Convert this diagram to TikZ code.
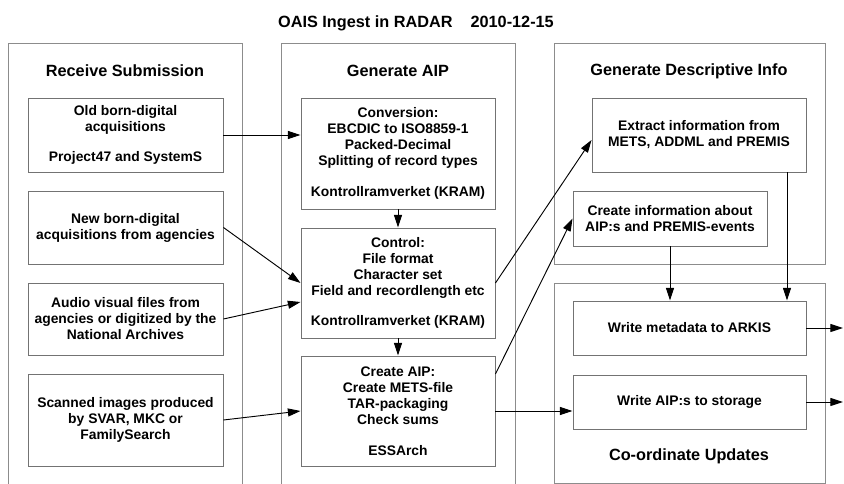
\documentclass[tikz,border=0pt]{standalone}
\usepackage{fontspec}
\setmainfont{Liberation Sans}
\usetikzlibrary{arrows.meta,calc}
\begin{document}
\begin{tikzpicture}[x=0.75pt,y=-0.75pt,
  panel/.style={draw=black!45, line width=0.6pt},
  box/.style={draw=black!55, line width=0.7pt, align=center, inner sep=2pt,
    font=\fontsize{10.4}{12}\selectfont\bfseries},
  head/.style={font=\fontsize{12.2}{14}\selectfont\bfseries, inner sep=0pt},
  arr/.style={-{Triangle[length=9.5pt,width=6pt]}, line width=0.7pt, black}]
\clip (0,0) rectangle (844,484);
\fill[white] (0,0) rectangle (844,484);
% title
\node[head] (title) at (416,23) {OAIS Ingest in RADAR\hspace{13.5pt}2010-12-15};
% panels
\draw[panel] (8,520) -- (8,43) -- (242,43) -- (242,520);
\draw[panel] (281,520) -- (281,43) -- (515,43) -- (515,520);
\draw[panel] (554,43) rectangle (825,264);
\draw[panel] (554,283) rectangle (825,483);
% headers
\node[head] (h1) at (125,71) {Receive Submission};
\node[head] (h2) at (398,71) {Generate AIP};
\node[head] (h3) at (689,71) {Generate Descriptive Info};
\node[head] (h4) at (689,456) {Co-ordinate Updates};
% left boxes
\node[box, minimum width=146.25pt, minimum height=55.5pt] (b1) at (125.5,135)
  {Old born-digital\\acquisitions\\[11pt]Project47 and SystemS};
\node[box, minimum width=146.25pt, minimum height=54.75pt] (b2) at (125.5,227.5)
  {New born-digital\\acquisitions from agencies};
\node[box, minimum width=146.25pt, minimum height=54pt] (b3) at (125.5,319)
  {Audio visual files from\\agencies or digitized by the\\National Archives};
\node[box, minimum width=146.25pt, minimum height=69pt] (b4) at (125.5,420)
  {Scanned images produced\\by SVAR, MKC or\\FamilySearch};
% middle boxes
\node[box, minimum width=145.5pt, minimum height=83.25pt] (conv) at (398,153.5)
  {Conversion:\\EBCDIC to ISO8859-1\\Packed-Decimal\\Splitting of record types\\[11pt]Kontrollramverket (KRAM)};
\node[box, minimum width=145.5pt, minimum height=82.5pt] (ctrl) at (398,283)
  {Control:\\File format\\Character set\\Field and recordlength etc\\[11pt]Kontrollramverket (KRAM)};
\node[box, minimum width=145.5pt, minimum height=82.5pt] (caip) at (398,411)
  {Create AIP:\\Create METS-file\\TAR-packaging\\Check sums\\[11pt]ESSArch};
% right boxes
\node[box, minimum width=160.5pt, minimum height=55.5pt] (extract) at (699,135)
  {Extract information from\\METS, ADDML and PREMIS};
\node[box, minimum width=145.5pt, minimum height=41.25pt] (cinfo) at (670,218.5)
  {Create information about\\AIP:s and PREMIS-events};
\node[box, minimum width=174.75pt, minimum height=40.5pt] (wmeta) at (689.5,328)
  {Write metadata to ARKIS};
\node[box, minimum width=174.75pt, minimum height=40.5pt] (waip) at (689.5,402)
  {Write AIP:s to storage};
\coordinate (outa) at (843,328);
\coordinate (outb) at (843,402);
% connectors
\draw[arr] (b1.east) -- (b1.east -| conv.west);
\draw[arr] (b2.east) -- (ctrl.west);
\draw[arr] (b3.east) -- ([yshift=-14.25pt]ctrl.west);
\draw[arr] (b4.east) -- (caip.west);
\draw[arr] (conv.south) -- (ctrl.north);
\draw[arr] (ctrl.south) -- (caip.north);
\draw[arr] (ctrl.east) -- ([yshift=-3.75pt]extract.west);
\draw[arr] ([yshift=27.75pt]caip.east) -- (cinfo.west);
\draw[arr] (caip.east) -- (caip.east -| waip.west);
\draw[arr] (cinfo.south) -- (cinfo.south |- wmeta.north);
\draw[arr] ([xshift=66pt]extract.south) -- ([xshift=66pt]extract.south |- wmeta.north);
\draw[arr] (wmeta.east) -- (outa);
\draw[arr] (waip.east) -- (outb);
\end{tikzpicture}
\end{document}
